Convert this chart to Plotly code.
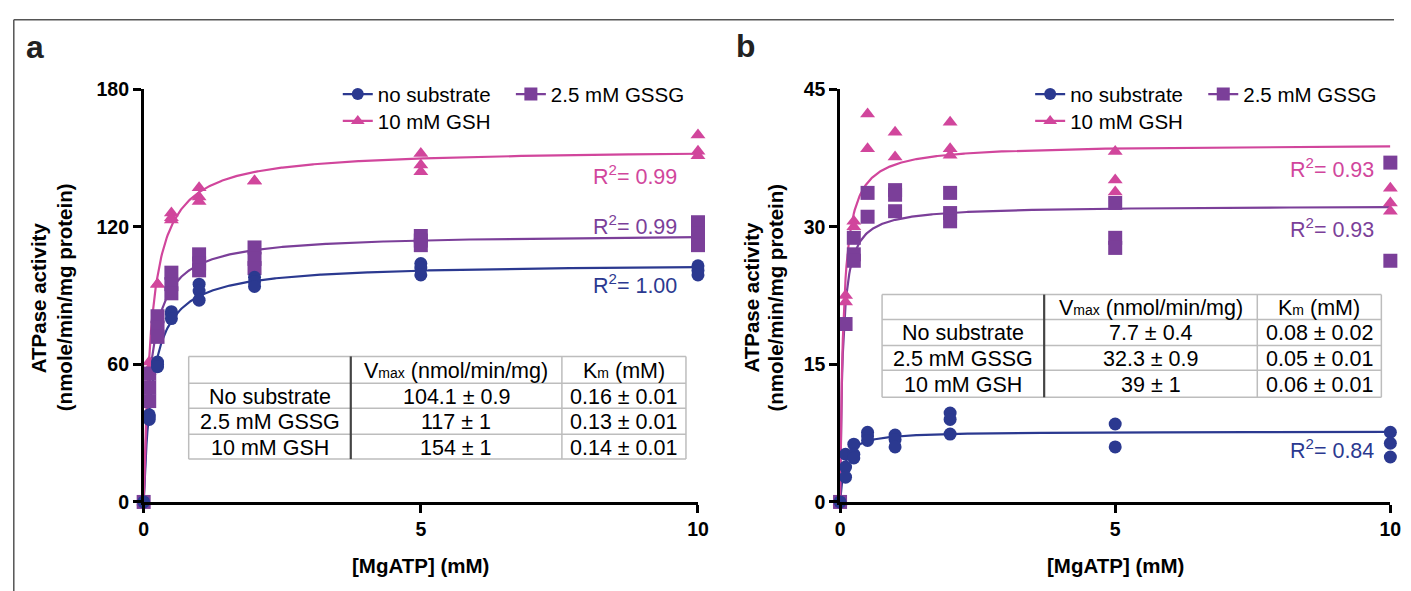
import numpy as np
import plotly.graph_objects as go

# ---------------- data ----------------
mgatp = [0, 0.1, 0.25, 0.5, 1, 2, 5, 10]

# panel a replicates (nmole/min/mg protein)
a_nosub = [[0], [38, 37, 36], [61, 60, 59], [83, 82, 80], [95, 92, 88], [98, 96, 94], [104, 102, 99], [103, 101, 99]]
a_gssg = [[0], [56, 50, 44], [81, 76, 72], [100, 95, 91], [108, 104, 101], [111, 106, 102], [116, 114, 112], [122, 117, 112]]
a_gsh = [[0], [61, 58, 57], [95, 95], [126, 124, 123], [137, 133, 131], [140, 140], [152, 147, 144], [160, 153, 151]]

# panel b replicates
b_nosub = [[0], [5.2, 3.8, 2.7], [6.3, 5.2, 4.8], [7.6, 7.2, 6.7], [7.3, 6.8, 6.0], [9.7, 9.0, 7.4], [8.5, 6.0], [7.6, 6.4, 4.9]]
b_gssg = [[0], [19.4], [28.8, 27.0, 26.3], [33.7, 31.1], [34.0, 33.5, 31.7], [33.7, 31.5, 30.6], [32.6, 28.8, 27.7], [37.0, 26.3]]
b_gsh = [[0], [22.5, 21.8], [30.6, 30.0], [42.3, 38.5], [40.3, 37.6], [41.4, 38.5, 37.8], [38.2, 35.1, 33.8], [34.2, 32.6, 31.7]]

series_names = ["no substrate", "2.5 mM GSSG", "10 mM GSH"]
table_rows = ["No substrate", "2.5 mM GSSG", "10 mM GSH"]

# Michaelis-Menten fit parameters (from the tables)
a_vmax = [104.1, 117, 154]
a_km = [0.16, 0.13, 0.14]
b_vmax = [7.7, 32.3, 39]
b_km = [0.08, 0.05, 0.06]

a_vmax_txt = ["104.1 ± 0.9", "117 ± 1", "154 ± 1"]
a_km_txt = ["0.16 ± 0.01", "0.13 ± 0.01", "0.14 ± 0.01"]
b_vmax_txt = ["7.7 ± 0.4", "32.3 ± 0.9", "39 ± 1"]
b_km_txt = ["0.08 ± 0.02", "0.05 ± 0.01", "0.06 ± 0.01"]

a_r2 = ["1.00", "0.99", "0.99"]
b_r2 = ["0.84", "0.93", "0.93"]

a_yticks = [0, 60, 120, 180]
b_yticks = [0, 15, 30, 45]
xticks = [0, 5, 10]

# ---------------- geometry ----------------
# map target screen pixels to figure pixels (compensates the observed page scaling/offset)
SX, OX = 0.988, 4.5
SY, OY = 0.966, 8.8
BODY = 8
W, H = 1397, 594
FS = 1.025  # font compensation


def fx(t):
    return (t - OX) / SX - BODY


def fy(t):
    return (t - OY) / SY - BODY


def px(t):
    return fx(t) / W


def py(t):
    return 1 - fy(t) / H


def fs(s):
    return round(s * FS, 1)


# ---------------- style ----------------
colors = ["#2B3990", "#7B3F99", "#D1469C"]
symbols = ["circle", "square", "triangle-up"]
msizes = [13, 14, 13]
FONT = "Arial"


def flat(xs, reps):
    xx, yy = [], []
    for x, r in zip(xs, reps):
        for v in r:
            xx.append(x)
            yy.append(v)
    return xx, yy


fig = go.Figure()

xfit = np.linspace(0, 10, 600)

panels = [
    dict(xa="x", ya="y", data=[a_nosub, a_gssg, a_gsh], vmax=a_vmax, km=a_km),
    dict(xa="x2", ya="y2", data=[b_nosub, b_gssg, b_gsh], vmax=b_vmax, km=b_km),
]

for p in panels:
    for i in range(3):
        yfit = p["vmax"][i] * xfit / (p["km"][i] + xfit)
        fig.add_trace(go.Scatter(x=xfit, y=yfit, mode="lines", xaxis=p["xa"], yaxis=p["ya"],
                                 line=dict(color=colors[i], width=2.2), showlegend=False,
                                 cliponaxis=False, hoverinfo="skip"))
    for i in [2, 1, 0]:
        xx, yy = flat(mgatp, p["data"][i])
        fig.add_trace(go.Scatter(x=xx, y=yy, mode="markers", xaxis=p["xa"], yaxis=p["ya"],
                                 marker=dict(symbol=symbols[i], size=msizes[i], color=colors[i],
                                             line=dict(width=0)),
                                 showlegend=False, cliponaxis=False))

leg_pos = [
    ("x", "y", "legend", 337, 92, 0),
    ("x", "y", "legend2", 510, 92, 1),
    ("x", "y", "legend3", 337, 119, 2),
    ("x2", "y2", "legend4", 1029, 92, 0),
    ("x2", "y2", "legend5", 1202, 92, 1),
    ("x2", "y2", "legend6", 1029, 119, 2),
]
legend_layout = {}
for xa, ya, lg, lx, ly, i in leg_pos:
    fig.add_trace(go.Scatter(x=[None], y=[None], mode="lines+markers", xaxis=xa, yaxis=ya,
                             name=series_names[i], legend=lg, showlegend=True,
                             line=dict(color=colors[i], width=2.2),
                             marker=dict(symbol=symbols[i], size=msizes[i] - 1, color=colors[i])))
    legend_layout[lg] = dict(x=px(lx), y=py(ly), xanchor="left", yanchor="middle",
                             orientation="h", bgcolor="rgba(0,0,0,0)", borderwidth=0,
                             font=dict(family=FONT, size=fs(20), color="black"), itemwidth=30)

axis_common = dict(showline=True, linecolor="black", linewidth=2.5, ticks="outside",
                   ticklen=8, tickwidth=2.5, tickcolor="black", showgrid=False, zeroline=False,
                   tickfont=dict(family=FONT, size=fs(19), color="black", weight="bold"))

layout = dict(
    width=W, height=H,
    margin=dict(l=0, r=0, t=0, b=0),
    paper_bgcolor="white", plot_bgcolor="rgba(0,0,0,0)",
    xaxis=dict(domain=[px(143), px(697)], range=[0, 10], tickvals=xticks, anchor="y", **axis_common),
    yaxis=dict(domain=[py(501), py(87)], range=[0, 180], tickvals=a_yticks, anchor="x", **axis_common),
    xaxis2=dict(domain=[px(839), px(1389)], range=[0, 10], tickvals=xticks, anchor="y2", **axis_common),
    yaxis2=dict(domain=[py(501), py(87)], range=[0, 45], tickvals=b_yticks, anchor="x2", **axis_common),
)
layout.update(legend_layout)
fig.update_layout(**layout)

ann = []
shapes = []

# border (top and left), kept just inside the figure
bx = 0.8 / W
by = 1 - 0.8 / H
shapes.append(dict(type="line", xref="paper", yref="paper", x0=bx, x1=1, y0=by, y1=by,
                   line=dict(color="#555555", width=1.5)))
shapes.append(dict(type="line", xref="paper", yref="paper", x0=bx, x1=bx, y0=by, y1=0,
                   line=dict(color="#555555", width=1.5)))

# panel letters
ann.append(dict(text="<b>a</b>", x=px(34), y=py(45), xref="paper", yref="paper", showarrow=False,
                font=dict(family=FONT, size=fs(31), color="#222222"), xanchor="center", yanchor="middle"))
ann.append(dict(text="<b>b</b>", x=px(744), y=py(44), xref="paper", yref="paper", showarrow=False,
                font=dict(family=FONT, size=fs(31), color="#222222"), xanchor="center", yanchor="middle"))

# axis titles
for cx in [420, 1114]:
    ann.append(dict(text="<b>[MgATP] (mM)</b>", x=px(cx), y=py(565), xref="paper", yref="paper",
                    showarrow=False, font=dict(family=FONT, size=fs(20), color="black"),
                    xanchor="center", yanchor="middle"))
for l1, l2 in [(38, 64), (751, 775)]:
    ann.append(dict(text="<b>ATPase activity</b>", x=px(l1), y=py(296), xref="paper", yref="paper",
                    showarrow=False, textangle=-90, font=dict(family=FONT, size=fs(20), color="black"),
                    xanchor="center", yanchor="middle"))
    ann.append(dict(text="<b>(nmole/min/mg protein)</b>", x=px(l2), y=py(296), xref="paper", yref="paper",
                    showarrow=False, textangle=-90, font=dict(family=FONT, size=fs(20), color="black"),
                    xanchor="center", yanchor="middle"))

# R^2 labels
r2_pos = [
    (a_r2, 678, [282, 223, 173]),
    (b_r2, 1375, [448, 226, 166]),
]
for r2s, rx, ys in r2_pos:
    for i in range(3):
        ann.append(dict(text="R<sup>2</sup>= " + r2s[i], x=px(rx), y=py(ys[i]), xref="paper", yref="paper",
                        showarrow=False, font=dict(family=FONT, size=fs(21), color=colors[i]),
                        xanchor="right", yanchor="middle"))

# tables
header_v = "V<span style='font-size:14px'>max</span> (nmol/min/mg)"
header_k = "K<span style='font-size:14px'>m</span> (mM)"
tables = [
    dict(cols=[188, 350, 561, 685], rows=[355, 382, 407, 433, 458], vtxt=a_vmax_txt, ktxt=a_km_txt),
    dict(cols=[881, 1043, 1256, 1380], rows=[293, 318, 344, 369, 396], vtxt=b_vmax_txt, ktxt=b_km_txt),
]
gray = "#BDBDBD"
for t in tables:
    c, r = t["cols"], t["rows"]
    for ry in r:
        shapes.append(dict(type="line", xref="paper", yref="paper", x0=px(c[0]), x1=px(c[3]),
                           y0=py(ry), y1=py(ry), line=dict(color=gray, width=1.5)))
    for k, cx in enumerate(c):
        col = "#444444" if k == 1 else gray
        wd = 2.2 if k == 1 else 1.5
        shapes.append(dict(type="line", xref="paper", yref="paper", x0=px(cx), x1=px(cx),
                           y0=py(r[0]), y1=py(r[-1]), line=dict(color=col, width=wd)))
    centers_x = [(c[0] + c[1]) / 2, (c[1] + c[2]) / 2, (c[2] + c[3]) / 2]
    centers_y = [(r[j] + r[j + 1]) / 2 for j in range(4)]
    cells = [["", header_v, header_k]] + [[table_rows[j], t["vtxt"][j], t["ktxt"][j]] for j in range(3)]
    for j in range(4):
        for k in range(3):
            if cells[j][k] == "":
                continue
            ann.append(dict(text=cells[j][k], x=px(centers_x[k]), y=py(centers_y[j] + 1), xref="paper",
                            yref="paper", showarrow=False, font=dict(family=FONT, size=fs(21), color="black"),
                            xanchor="center", yanchor="middle"))

fig.update_layout(annotations=ann, shapes=shapes)
fig.write_html("out.html")
